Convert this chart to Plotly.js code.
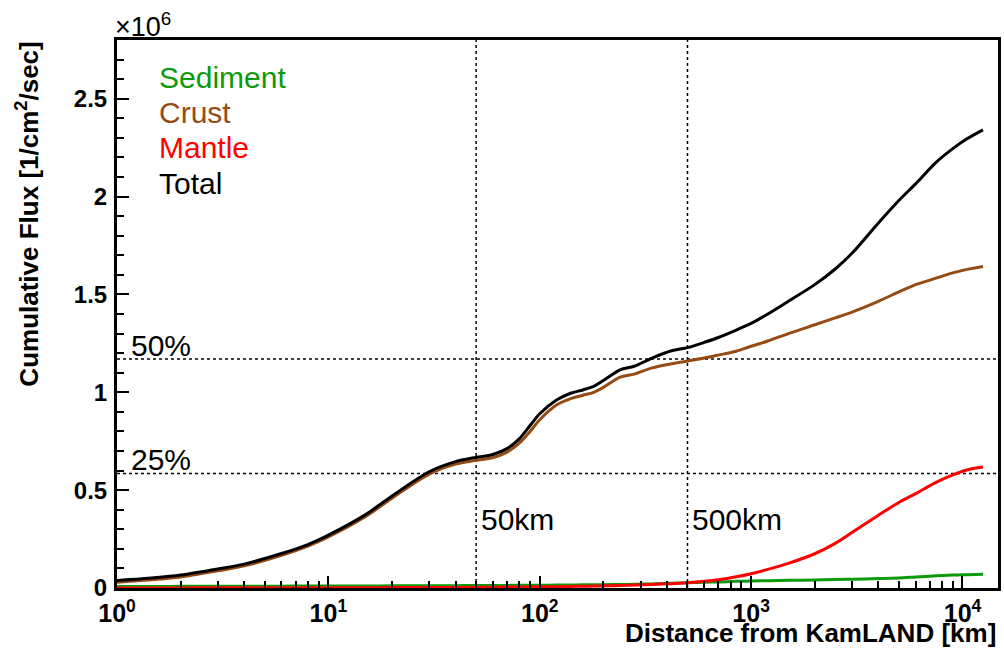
<!DOCTYPE html>
<html>
<head>
<meta charset="utf-8">
<script src="https://cdn.plot.ly/plotly-3.0.1.min.js"></script>
<style>
html,body{margin:0;padding:0;background:#fff;}
#chart{width:1004px;height:651px;}
</style>
</head>
<body>
<div id="chart"></div>
<script>
// Distance from KamLAND [km]
var distance = [1, 1.5, 2, 3, 4, 6, 8, 10, 15, 20, 30, 40, 50, 60, 70, 80, 90, 100, 120, 140, 160, 180, 200, 240, 280, 340, 420, 500, 600, 700, 850, 1000, 1200, 1500, 2000, 2500, 3000, 4000, 5000, 6000, 7500, 9000, 10500, 12500];
// Cumulative flux, units of 10^6 /cm^2/sec
var sediment = [0.008, 0.008, 0.0085, 0.009, 0.009, 0.0095, 0.0098, 0.010, 0.0105, 0.011, 0.0115, 0.012, 0.0125, 0.013, 0.0133, 0.0136, 0.014, 0.0143, 0.015, 0.0155, 0.016, 0.0165, 0.017, 0.018, 0.019, 0.021, 0.024, 0.027, 0.029, 0.031, 0.034, 0.036, 0.037, 0.039, 0.041, 0.043, 0.045, 0.048, 0.051, 0.056, 0.062, 0.066, 0.068, 0.070];
var crust = [0.030, 0.043, 0.056, 0.088, 0.113, 0.167, 0.214, 0.261, 0.365, 0.459, 0.582, 0.633, 0.652, 0.666, 0.694, 0.74, 0.80, 0.86, 0.935, 0.968, 0.985, 1.0, 1.025, 1.077, 1.093, 1.125, 1.146, 1.16, 1.175, 1.19, 1.21, 1.235, 1.262, 1.30, 1.345, 1.38, 1.41, 1.465, 1.513, 1.55, 1.583, 1.61, 1.628, 1.643];
var mantle = [0.0005, 0.0005, 0.0006, 0.0007, 0.0008, 0.001, 0.0012, 0.0013, 0.0017, 0.002, 0.0026, 0.003, 0.0035, 0.004, 0.0045, 0.005, 0.0055, 0.006, 0.007, 0.008, 0.009, 0.010, 0.011, 0.013, 0.015, 0.018, 0.022, 0.027, 0.034, 0.042, 0.057, 0.073, 0.095, 0.126, 0.175, 0.228, 0.283, 0.372, 0.437, 0.482, 0.54, 0.578, 0.603, 0.618];
var total = [0.038, 0.052, 0.066, 0.097, 0.122, 0.176, 0.222, 0.27, 0.375, 0.47, 0.594, 0.646, 0.667, 0.682, 0.712, 0.762, 0.83, 0.89, 0.96, 0.995, 1.012, 1.03, 1.06, 1.115, 1.133, 1.175, 1.212, 1.228, 1.255, 1.28, 1.318, 1.352, 1.40, 1.465, 1.55, 1.63, 1.71, 1.865, 1.98, 2.065, 2.175, 2.245, 2.295, 2.341];

var seriesNames = ["Sediment", "Crust", "Mantle", "Total"];
var seriesColors = ["#0a9a0a", "#964b14", "#ff0000", "#000000"];
var seriesData = [sediment, crust, mantle, total];

var xTickVals = [1, 10, 100, 1000, 10000];
var xTickText = ["10<sup>0</sup>", "10<sup>1</sup>", "10<sup>2</sup>", "10<sup>3</sup>", "10<sup>4</sup>"];
var yTickVals = [0, 0.5, 1, 1.5, 2, 2.5];
var yTickText = ["0", "0.5", "1", "1.5", "2", "2.5"];
var refDistances = [50, 500];
var refDistanceLabels = ["50km", "500km"];
var refFractions = [0.5, 0.25];
var refFractionLabels = ["50%", "25%"];

var FONT = "Liberation Sans, Arial, Helvetica, sans-serif";

var minorVals = [];
for (var d = 0; d < 5; d++) {
  for (var m = 2; m <= 9; m++) minorVals.push(m * Math.pow(10, d));
}

var traces = [];
for (var i = 0; i < seriesNames.length; i++) {
  traces.push({
    x: distance, y: seriesData[i], type: "scatter", mode: "lines",
    name: seriesNames[i], showlegend: false, hoverinfo: "skip",
    line: {color: seriesColors[i], width: 3, shape: "spline", smoothing: 0.9}
  });
}
// invisible helper trace for the minor-tick axis
traces.push({x: distance, y: total, xaxis: "x2", yaxis: "y", mode: "lines",
  line: {width: 0, color: "rgba(0,0,0,0)"}, showlegend: false, hoverinfo: "skip"});

var totalFinal = total[total.length - 1];
var shapes = [];
var annotations = [];
refDistances.forEach(function (dv, k) {
  shapes.push({type: "line", xref: "x", yref: "paper", x0: dv, x1: dv, y0: 0, y1: 1,
    line: {color: "#000", width: 1.5, dash: "3px,3px"}, layer: "below"});
  annotations.push({xref: "x", yref: "y", x: Math.log10(dv), y: 0.35, xanchor: "left", yanchor: "middle",
    xshift: 3, text: refDistanceLabels[k], showarrow: false, font: {family: FONT, size: 30, color: "#000"}});
});
refFractions.forEach(function (f, k) {
  shapes.push({type: "line", xref: "paper", yref: "y", x0: 0, x1: 1, y0: f * totalFinal, y1: f * totalFinal,
    line: {color: "#000", width: 1.5, dash: "3px,3px"}, layer: "below"});
  annotations.push({xref: "paper", yref: "y", x: 0.014, y: f * totalFinal, xanchor: "left", yanchor: "bottom",
    yshift: -5, text: refFractionLabels[k], showarrow: false, font: {family: FONT, size: 30, color: "#000"}});
});
var legendY = [0.931, 0.867, 0.803, 0.739];
for (var j = 0; j < seriesNames.length; j++) {
  annotations.push({xref: "paper", yref: "paper", x: 0.045, y: legendY[j], xanchor: "left", yanchor: "middle",
    text: seriesNames[j], showarrow: false, font: {family: FONT, size: 30, color: seriesColors[j]}});
}
annotations.push({xref: "paper", yref: "paper", x: -0.004, y: 1, xanchor: "left", yanchor: "bottom", yshift: -4,
  text: "×10<sup>6</sup>", showarrow: false, font: {family: FONT, size: 27, color: "#000"}});
annotations.push({xref: "paper", yref: "paper", x: 1.0, y: 0, xanchor: "right", yanchor: "middle", yshift: -45,
  text: "Distance from KamLAND [km]", showarrow: false, font: {family: FONT, size: 26, color: "#000", weight: 700}});
annotations.push({xref: "paper", yref: "paper", x: -0.102, y: 1, xanchor: "center", yanchor: "top", textangle: -90,
  text: "Cumulative Flux [1/cm<sup>2</sup>/sec]", showarrow: false, font: {family: FONT, size: 26, color: "#000", weight: 700}});

var layout = {
  width: 1004, height: 651,
  margin: {l: 117, r: 6, t: 40, b: 63, pad: 0},
  paper_bgcolor: "#fff", plot_bgcolor: "#fff",
  showlegend: false,
  xaxis: {
    type: "log", range: [0, 4.168], showgrid: false, zeroline: false,
    tickmode: "array", tickvals: xTickVals, ticktext: xTickText,
    ticks: "inside", ticklen: 12, tickwidth: 2, tickcolor: "#000",
    showline: true, linewidth: 3, linecolor: "#000", mirror: true,
    tickfont: {family: FONT, size: 25, color: "#000", weight: 700},
    ticklabelstandoff: 1
  },
  xaxis2: {
    type: "log", range: [0, 4.168], overlaying: "x", anchor: "y", side: "bottom",
    showgrid: false, zeroline: false, showline: false,
    tickmode: "array", tickvals: minorVals, showticklabels: false,
    ticks: "inside", ticklen: 7, tickwidth: 2, tickcolor: "#000"
  },
  yaxis: {
    range: [0, 2.8], showgrid: false, zeroline: false,
    tickmode: "array", tickvals: yTickVals, ticktext: yTickText,
    ticks: "inside", ticklen: 12, tickwidth: 2, tickcolor: "#000",
    minor: {dtick: 0.1, ticks: "inside", ticklen: 7, tickwidth: 2, tickcolor: "#000", showgrid: false},
    showline: true, linewidth: 3, linecolor: "#000", mirror: true,
    tickfont: {family: FONT, size: 24, color: "#000", weight: 700},
    ticklabelstandoff: 2
  },
  shapes: shapes,
  annotations: annotations
};

Plotly.newPlot("chart", traces, layout, {staticPlot: true, displayModeBar: false});
</script>
</body>
</html>
